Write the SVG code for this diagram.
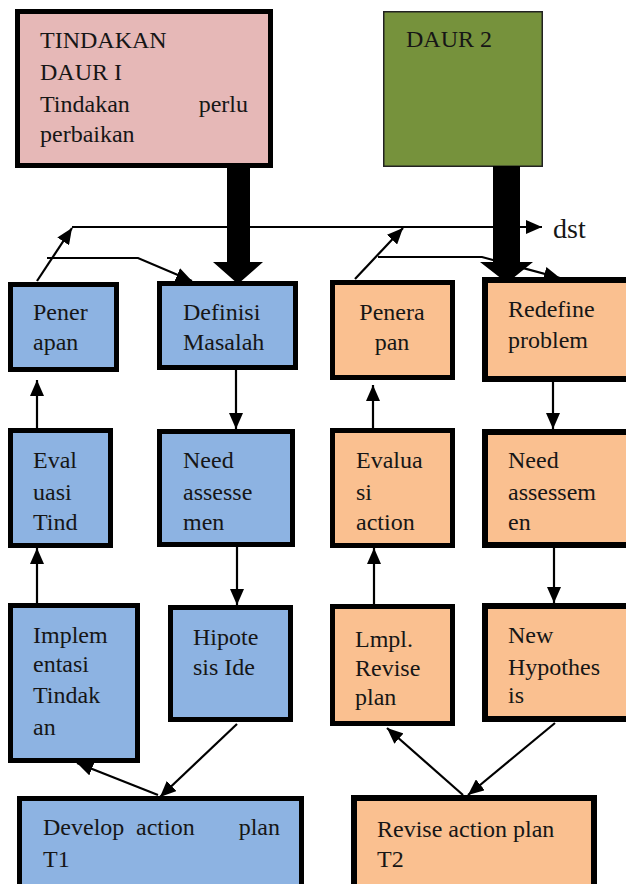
<svg xmlns="http://www.w3.org/2000/svg" width="626" height="884" viewBox="0 0 626 884" font-family="'Liberation Serif', 'Times New Roman', serif">
<defs>
<style>
text{font-family:'Liberation Serif','Times New Roman','Liberation Sans',serif;font-size:24px;fill:#161616}
.blue{fill:#8db3e2;stroke:#000;stroke-width:5}
.orange{fill:#fac090;stroke:#000;stroke-width:5}
.orange6{fill:#fac090;stroke:#000;stroke-width:6}
.ln{fill:none;stroke:#000;stroke-width:2.2}
</style>
<marker id="ah" viewBox="0 0 16 14" refX="16" refY="7" markerWidth="16" markerHeight="14" markerUnits="userSpaceOnUse" orient="auto">
<path d="M0,0 L16,7 L0,14 Z" fill="#000"/>
</marker>
</defs>

<g id="tindakan">
<rect x="17.5" y="11.5" width="253" height="154" fill="#e6b8b7" stroke="#000" stroke-width="5"/>
<text x="40" y="48">TINDAKAN</text>
<text x="40" y="80">DAUR I</text>
<text y="112"><tspan x="40">Tindakan</tspan><tspan x="248" text-anchor="end">perlu</tspan></text>
<text x="40" y="142">perbaikan</text>
</g>

<g id="daur2">
<rect x="383.75" y="11.75" width="158.5" height="154.5" fill="#76923c" stroke="#222" stroke-width="1.5"/>
<text x="406" y="47">DAUR 2</text>
</g>

<g id="connectors">
<line class="ln" x1="72" y1="227" x2="542" y2="227" marker-end="url(#ah)"/>
<line class="ln" x1="37" y1="281" x2="72" y2="228" marker-end="url(#ah)"/>
<line class="ln" x1="355" y1="279" x2="403" y2="228" marker-end="url(#ah)"/>
<polyline class="ln" points="47,258 138,258 192,281" marker-end="url(#ah)"/>
<polyline class="ln" points="378,257 482,257 560,278" marker-end="url(#ah)"/>
<polygon points="227,166 250,166 250,262 263,262 238,284 213,262 227,262" fill="#000"/>
<polygon points="493,166 520,166 520,262 533,262 507,283 480,262 493,262" fill="#000"/>
<line class="ln" x1="37" y1="428" x2="37" y2="380" marker-end="url(#ah)"/>
<line class="ln" x1="236" y1="370" x2="236" y2="429" marker-end="url(#ah)"/>
<line class="ln" x1="373" y1="428" x2="373" y2="385" marker-end="url(#ah)"/>
<line class="ln" x1="553" y1="382" x2="553" y2="429" marker-end="url(#ah)"/>
<line class="ln" x1="37" y1="603" x2="37" y2="548" marker-end="url(#ah)"/>
<line class="ln" x1="237" y1="547" x2="237" y2="605" marker-end="url(#ah)"/>
<line class="ln" x1="374" y1="604" x2="374" y2="548" marker-end="url(#ah)"/>
<line class="ln" x1="554" y1="548" x2="554" y2="603" marker-end="url(#ah)"/>
<line class="ln" x1="158" y1="795" x2="77" y2="763" marker-end="url(#ah)"/>
<line class="ln" x1="237" y1="724" x2="160" y2="797" marker-end="url(#ah)"/>
<line class="ln" x1="463" y1="795" x2="387" y2="728" marker-end="url(#ah)"/>
<line class="ln" x1="555" y1="723" x2="468" y2="795" marker-end="url(#ah)"/>
<text x="553" y="238" style="font-size:28px">dst</text>
</g>

<g id="penerapan1">
<rect class="blue" x="10.5" y="284.5" width="106" height="85"/>
<text x="33" y="320">Pener</text>
<text x="33" y="350">apan</text>
</g>
<g id="definisi">
<rect class="blue" x="159.5" y="283.5" width="136" height="84"/>
<text x="183" y="320">Definisi</text>
<text x="183" y="350">Masalah</text>
</g>
<g id="penerapan2">
<rect class="orange" x="332.5" y="282.5" width="120" height="95"/>
<text x="392" y="320" text-anchor="middle">Penera</text>
<text x="392" y="350" text-anchor="middle">pan</text>
</g>
<g id="redefine">
<rect class="orange6" x="485" y="280" width="160" height="99"/>
<text x="508" y="317">Redefine</text>
<text x="508" y="348">problem</text>
</g>

<g id="evaluasi1">
<rect class="blue" x="10.5" y="430.5" width="100" height="115"/>
<text x="33" y="468">Eval</text>
<text x="33" y="500">uasi</text>
<text x="33" y="530">Tind</text>
</g>
<g id="need1">
<rect class="blue" x="159.5" y="431.5" width="133" height="113"/>
<text x="183" y="468">Need</text>
<text x="183" y="500">assesse</text>
<text x="183" y="530">men</text>
</g>
<g id="evaluasi2">
<rect class="orange" x="332.5" y="430.5" width="120" height="115"/>
<text x="356" y="468">Evalua</text>
<text x="356" y="500">si</text>
<text x="356" y="530">action</text>
</g>
<g id="need2">
<rect class="orange6" x="485" y="432" width="160" height="113"/>
<text x="508" y="468">Need</text>
<text x="508" y="500">assessem</text>
<text x="508" y="530">en</text>
</g>

<g id="implementasi">
<rect class="blue" x="10.5" y="605.5" width="127" height="155"/>
<text x="33" y="643">Implem</text>
<text x="33" y="672">entasi</text>
<text x="33" y="703">Tindak</text>
<text x="33" y="735">an</text>
</g>
<g id="hipotesis">
<rect class="blue" x="170.5" y="607.5" width="120" height="112"/>
<text x="193" y="645">Hipote</text>
<text x="193" y="675">sis Ide</text>
</g>
<g id="lmpl">
<rect class="orange" x="332.5" y="606.5" width="120" height="117"/>
<text x="355" y="647">Lmpl.</text>
<text x="355" y="676">Revise</text>
<text x="355" y="705">plan</text>
</g>
<g id="newhyp">
<rect class="orange6" x="485" y="606" width="160" height="113"/>
<text x="508" y="643">New</text>
<text x="508" y="675">Hypothes</text>
<text x="508" y="703">is</text>
</g>

<g id="develop">
<rect class="blue" x="19.5" y="798.5" width="282" height="100"/>
<text y="835"><tspan x="43">Develop</tspan><tspan x="136">action</tspan><tspan x="280" text-anchor="end">plan</tspan></text>
<text x="43" y="867">T1</text>
</g>
<g id="revise">
<rect class="orange6" x="354" y="798" width="240" height="100"/>
<text x="377" y="837">Revise action plan</text>
<text x="377" y="867">T2</text>
</g>
</svg>
